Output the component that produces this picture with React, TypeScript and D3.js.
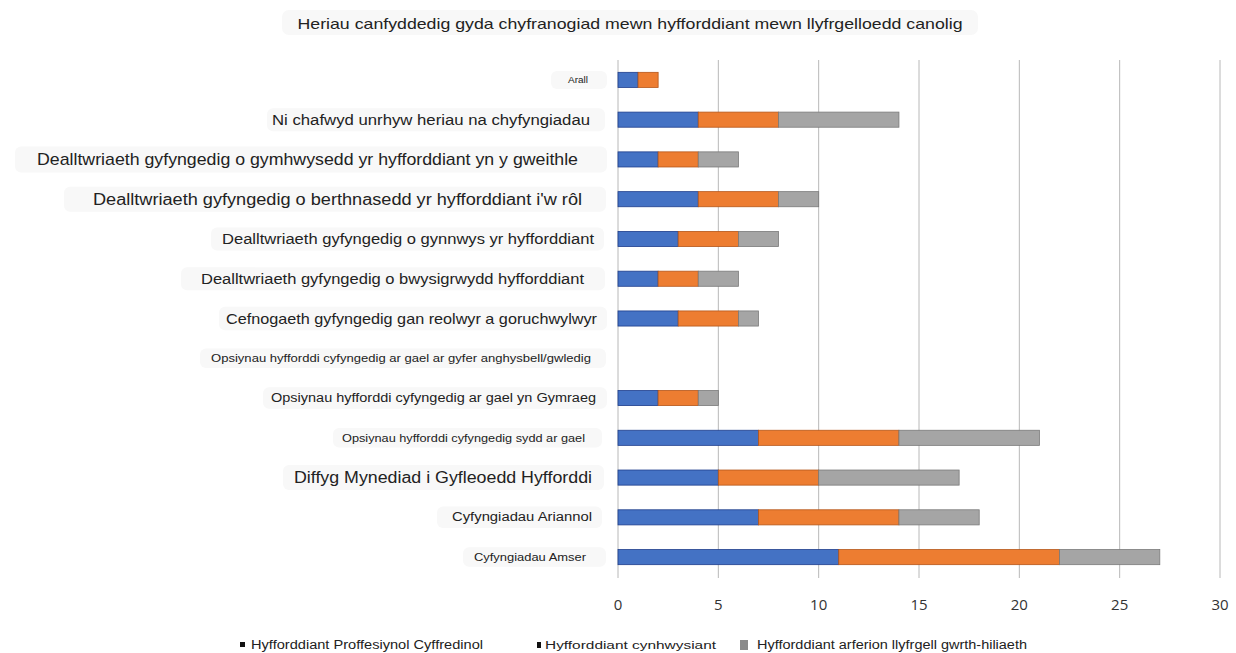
import React from "react";
import * as d3 from "d3";

const title = "Heriau canfyddedig gyda chyfranogiad mewn hyfforddiant mewn llyfrgelloedd canolig";

const categories = [
  "Arall",
  "Ni chafwyd unrhyw heriau na chyfyngiadau",
  "Dealltwriaeth gyfyngedig o gymhwysedd yr hyfforddiant yn y gweithle",
  "Dealltwriaeth gyfyngedig o berthnasedd yr hyfforddiant i'w rôl",
  "Dealltwriaeth gyfyngedig o gynnwys yr hyfforddiant",
  "Dealltwriaeth gyfyngedig o bwysigrwydd hyfforddiant",
  "Cefnogaeth gyfyngedig gan reolwyr a goruchwylwyr",
  "Opsiynau hyfforddi cyfyngedig ar gael ar gyfer anghysbell/gwledig",
  "Opsiynau hyfforddi cyfyngedig ar gael yn Gymraeg",
  "Opsiynau hyfforddi cyfyngedig sydd ar gael",
  "Diffyg Mynediad i Gyfleoedd Hyfforddi",
  "Cyfyngiadau Ariannol",
  "Cyfyngiadau Amser",
];

const seriesNames = [
  "Hyfforddiant Proffesiynol Cyffredinol",
  "Hyfforddiant cynhwysiant",
  "Hyfforddiant arferion llyfrgell gwrth-hiliaeth",
];

const proffesiynol = [1, 4, 2, 4, 3, 2, 3, 0, 2, 7, 5, 7, 11];
const cynhwysiant = [1, 4, 2, 4, 3, 2, 3, 0, 2, 7, 5, 7, 11];
const gwrthHiliaeth = [0, 6, 2, 2, 2, 2, 1, 0, 1, 7, 7, 4, 5];

const xTicks = [0, 5, 10, 15, 20, 25, 30];

// label styling (font size, text left, text right, box left, box right) – presentation only
const labelStyle: [number, number, number, number, number][] = [
  [9, 568, 588, 551, 607],
  [14, 272, 590, 267, 605],
  [17, 37, 578, 15, 607],
  [16, 93, 582, 64, 606],
  [14, 222, 594, 211, 604],
  [14, 201, 584, 181, 605],
  [14.5, 226, 597, 219, 607],
  [10.5, 211, 591, 200, 606],
  [12.5, 271, 596, 263, 607],
  [10.5, 342, 585, 333, 602],
  [16, 294, 592, 283, 604],
  [12.5, 452, 592, 437, 602],
  [10.5, 474, 586, 463, 606],
];

const fills = ["#4472C4", "#ED7D31", "#A5A5A5"];
const strokes = ["#1F3E8C", "#B5561A", "#7A7A7A"];

export default function App() {
  const W = 1236;
  const H = 653;
  const x = d3.scaleLinear().domain([0, 30]).range([618, 1220]);
  const y = d3
    .scaleBand<string>()
    .domain(categories)
    .range([60, 577])
    .paddingInner(0.62)
    .paddingOuter(0.31);

  const rows = categories.map((c, i) => ({
    cat: c,
    vals: [proffesiynol[i], cynhwysiant[i], gwrthHiliaeth[i]],
  }));
  const stack = d3
    .stack<any>()
    .keys(["0", "1", "2"])
    .value((d: any, k: string) => d.vals[+k]);
  const stacked = stack(rows);

  const font = "'Liberation Sans', Arial, sans-serif";
  const bh = y.bandwidth();

  return (
    <svg
      width={W}
      height={H}
      style={{ position: "absolute", left: 0, top: 0, background: "#fff" }}
      fontFamily={font}
    >
      <rect x={0} y={0} width={W} height={H} fill="#fff" />
      {/* title */}
      <rect x={282} y={10} width={696} height={25} rx={7} fill="#f8f8f8" />
      <text
        x={630}
        y={23}
        textAnchor="middle"
        dominantBaseline="central"
        fontSize={15}
        fill="#222"
        textLength={665}
        lengthAdjust="spacingAndGlyphs"
      >
        {title}
      </text>

      {/* gridlines */}
      {xTicks.map((t) => (
        <line
          key={t}
          x1={x(t)}
          x2={x(t)}
          y1={60}
          y2={578}
          stroke="#b8b8b8"
          strokeWidth={1}
        />
      ))}
      {xTicks.map((t) => (
        <text
          key={"t" + t}
          x={x(t)}
          y={604}
          textAnchor="middle"
          dominantBaseline="central"
          fontSize={15}
          fill="#333"
          fontFamily="'Open Sans', 'Liberation Sans', sans-serif"
        >
          {t}
        </text>
      ))}

      {/* bars */}
      {stacked.map((layer, si) =>
        layer.map((d: any, i: number) => {
          const w = x(d[1]) - x(d[0]);
          if (w <= 0) return null;
          return (
            <rect
              key={si + "-" + i}
              x={x(d[0])}
              y={y(categories[i])!}
              width={w}
              height={bh}
              fill={fills[si]}
              stroke={strokes[si]}
              strokeWidth={0.8}
            />
          );
        })
      )}

      {/* category labels */}
      {categories.map((c, i) => {
        const [fs, l, r, bl, br] = labelStyle[i];
        const cy = y(c)! + bh / 2;
        const bhh = fs + 9;
        return (
          <g key={c}>
            <rect
              x={bl}
              y={cy - bhh / 2}
              width={br - bl}
              height={bhh}
              rx={6}
              fill="#f8f8f8"
            />
            <text
              x={l}
              y={cy}
              dominantBaseline="central"
              fontSize={fs}
              fill="#222"
              textLength={r - l}
              lengthAdjust="spacingAndGlyphs"
            >
              {c}
            </text>
          </g>
        );
      })}

      {/* legend */}
      <rect x={240} y={642} width={5} height={5} fill="#111" />
      <text x={251} y={645} dominantBaseline="central" fontSize={12} fill="#222" textLength={232} lengthAdjust="spacingAndGlyphs">
        {seriesNames[0]}
      </text>
      <rect x={537} y={642} width={4} height={6} fill="#111" />
      <text x={545} y={645} dominantBaseline="central" fontSize={10} fill="#222" textLength={171} lengthAdjust="spacingAndGlyphs">
        {seriesNames[1]}
      </text>
      <rect x={740} y={640} width={8} height={10} fill="#8a8a8a" />
      <text x={757} y={645} dominantBaseline="central" fontSize={12} fill="#222" textLength={270} lengthAdjust="spacingAndGlyphs">
        {seriesNames[2]}
      </text>
    </svg>
  );
}
